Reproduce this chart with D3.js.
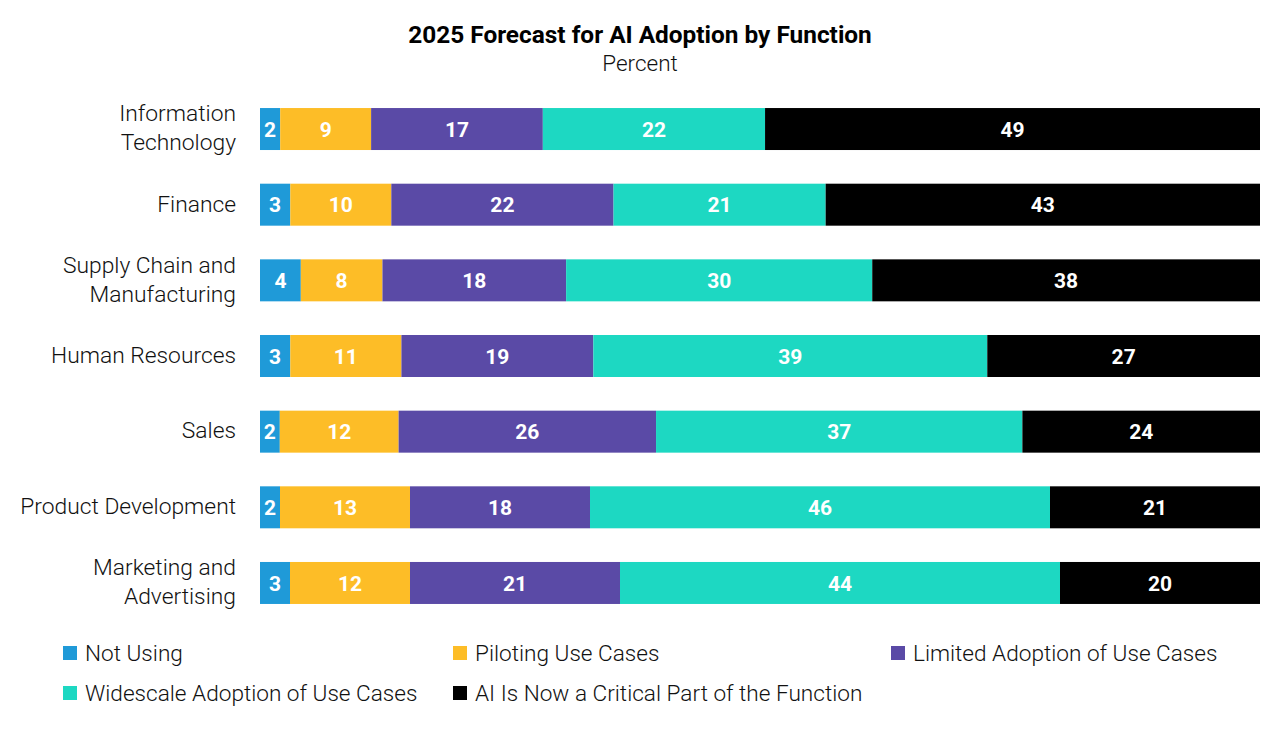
<!DOCTYPE html>
<html>
<head>
<meta charset="utf-8">
<script src="https://cdn.jsdelivr.net/npm/d3@7"></script>
<style>
  body { margin: 0; background: #fff; }
  svg { display: block; font-family: Roboto, "Noto Sans", sans-serif; }
</style>
</head>
<body>
<svg id="chart" width="1280" height="731"></svg>
<script>
const categories = [
  "Information Technology",
  "Finance",
  "Supply Chain and Manufacturing",
  "Human Resources",
  "Sales",
  "Product Development",
  "Marketing and Advertising"
]
const categoryLines = [
  ["Information", "Technology"],
  ["Finance"],
  ["Supply Chain and", "Manufacturing"],
  ["Human Resources"],
  ["Sales"],
  ["Product Development"],
  ["Marketing and", "Advertising"]
]
const seriesNames = [
  "Not Using",
  "Piloting Use Cases",
  "Limited Adoption of Use Cases",
  "Widescale Adoption of Use Cases",
  "AI Is Now a Critical Part of the Function"
]
const notUsing   = [2, 3, 4, 3, 2, 2, 3]
const piloting   = [9, 10, 8, 11, 12, 13, 12]
const limited    = [17, 22, 18, 19, 26, 18, 21]
const widescale  = [22, 21, 30, 39, 37, 46, 44]
const critical   = [49, 43, 38, 27, 24, 21, 20]
const colors = ["#1f9ad8", "#fdbd27", "#5a4aa6", "#1dd8c2", "#000000"]

const seriesValues = [notUsing, piloting, limited, widescale, critical]
const rows = categories.map((c, i) => {
  let r = { category: c }
  seriesNames.forEach((s, j) => { r[s] = seriesValues[j][i] })
  return r
})

const svg = d3.select("#chart")
const left = 260, right = 1260

// bars fill the full width (shares of each row's total)
const stack = d3.stack().keys(seriesNames).offset(d3.stackOffsetExpand)
const stacked = stack(rows)

const x = d3.scaleLinear().domain([0, 1]).range([left, right])
const y = d3.scaleBand().domain(categories).range([91.2, 620.8])
  .paddingInner(0.445).paddingOuter(0.2225)
const color = d3.scaleOrdinal().domain(seriesNames).range(colors)

svg.append("text")
  .attr("x", 640).attr("y", 43)
  .attr("text-anchor", "middle")
  .attr("font-size", 24.4).attr("font-weight", 700)
  .attr("fill", "#000")
  .text("2025 Forecast for AI Adoption by Function")
svg.append("text")
  .attr("x", 640).attr("y", 71)
  .attr("text-anchor", "middle")
  .attr("font-size", 22.5).attr("font-weight", 300)
  .attr("fill", "#111")
  .text("Percent")

const layers = svg.append("g").selectAll("g").data(stacked).join("g")
  .attr("fill", d => color(d.key))

layers.selectAll("rect").data(d => d).join("rect")
  .attr("x", d => x(d[0]))
  .attr("y", d => y(d.data.category))
  .attr("width", d => x(d[1]) - x(d[0]))
  .attr("height", y.bandwidth())

layers.selectAll("text").data(d => d.map(v => ({ v, key: d.key }))).join("text")
  .attr("x", d => (x(d.v[0]) + x(d.v[1])) / 2)
  .attr("y", d => y(d.v.data.category) + y.bandwidth() / 2)
  .attr("dy", "0.36em")
  .attr("text-anchor", "middle")
  .attr("font-size", 21).attr("font-weight", 700)
  .attr("fill", "#fff")
  .text(d => d.v.data[d.key])

// category labels
const labels = svg.append("g").selectAll("text").data(categories).join("text")
  .attr("text-anchor", "end")
  .attr("font-size", 22.8).attr("font-weight", 300)
  .attr("fill", "#111")
labels.each(function (c, i) {
  let lines = categoryLines[i]
  let cy = y(c) + y.bandwidth() / 2
  let lh = 29
  d3.select(this).selectAll("tspan").data(lines).join("tspan")
    .attr("x", 236)
    .attr("y", (l, k) => cy + (k - (lines.length - 1) / 2) * lh)
    .attr("dy", "0.3em")
    .text(l => l)
})

// legend
const legendPos = [[63, 653], [453, 653], [891, 653], [63, 693], [453, 693]]
const legend = svg.append("g").selectAll("g").data(seriesNames).join("g")
  .attr("transform", (d, i) => `translate(${legendPos[i][0]},${legendPos[i][1]})`)
legend.append("rect")
  .attr("x", 0).attr("y", -7)
  .attr("width", 14).attr("height", 14)
  .attr("fill", d => color(d))
legend.append("text")
  .attr("x", 22).attr("dy", "0.36em")
  .attr("font-size", 22.6).attr("font-weight", 300)
  .attr("fill", "#111")
  .text(d => d)
</script>
</body>
</html>
